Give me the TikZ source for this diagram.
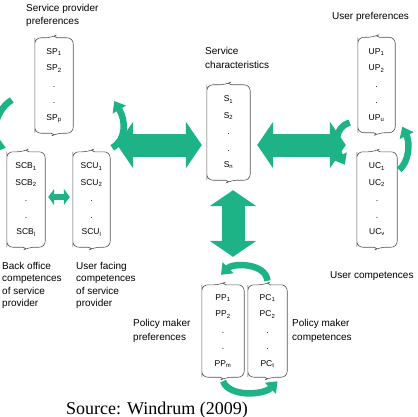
\documentclass[tikz,border=0pt]{standalone}
\usepackage{fontspec}
\setmainfont{Liberation Sans}
\newfontfamily\sourcefont{Liberation Serif}
\usetikzlibrary{arrows.meta}

\definecolor{arrowgreen}{RGB}{30,178,135}
\definecolor{framegray}{RGB}{85,85,85}

\tikzset{
  scrollbox/.style={minimum width=#1, minimum height=95pt, inner sep=0pt,
    align=center, font=\fontsize{8.5}{16.5}\selectfont},
  scrollline/.style={framegray, line width=0.6pt},
  label/.style={anchor=north west, inner sep=0pt, align=left,
    font=\fontsize{10}{12.5}\selectfont},
  blockarrow/.style={arrowgreen, line width=23pt,
    {Triangle[width=46pt,length=16pt]}-{Triangle[width=46pt,length=16pt]}},
  smallarrow/.style={arrowgreen, line width=6.5pt,
    {Triangle[width=16pt,length=6pt]}-{Triangle[width=16pt,length=6pt]}},
  turnarrow/.style={arrowgreen, line width=6.5pt, -{Triangle[width=15pt,length=10pt]}}
}

% frame with rounded ends and a small notch on top and bottom
\newcommand{\scrollframe}[1]{%
  \draw[scrollline] (#1.south west) [rounded corners=6pt] -- (#1.north west)
    -- ([xshift=-3pt]#1.north) [sharp corners] -- ([yshift=1.5pt]#1.north)
    -- ([xshift=3pt]#1.north) [rounded corners=6pt] -- (#1.north east)
    -- (#1.south east) -- ([xshift=3pt]#1.south) [sharp corners]
    -- ([yshift=-1.5pt]#1.south) -- ([xshift=-3pt]#1.south)
    [rounded corners=6pt] -- (#1.south west) -- (#1.north west);}

\begin{document}
\begin{tikzpicture}[x=1pt, y=-1pt]
  \useasboundingbox (0,0) rectangle (417,417);

  % boxes
  \node[scrollbox=38pt] (sp) at (54,85.5)
    {SP\textsubscript{1}\\SP\textsubscript{2}\\.\\.\\SP\textsubscript{p}};
  \node[scrollbox=38pt] (scb) at (26,199.5)
    {SCB\textsubscript{1}\\SCB\textsubscript{2}\\.\\.\\SCB\textsubscript{l}};
  \node[scrollbox=37pt] (scu) at (91.5,199.5)
    {SCU\textsubscript{1}\\SCU\textsubscript{2}\\.\\.\\SCU\textsubscript{l}};
  \node[scrollbox=43pt] (s) at (228.5,132.5)
    {S\textsubscript{1}\\S\textsubscript{2}\\.\\.\\S\textsubscript{n}};
  \node[scrollbox=37pt] (up) at (376.5,85)
    {UP\textsubscript{1}\\UP\textsubscript{2}\\.\\.\\UP\textsubscript{u}};
  \node[scrollbox=40pt] (uc) at (377,199.5)
    {UC\textsubscript{1}\\UC\textsubscript{2}\\.\\.\\UC\textsubscript{v}};
  \node[scrollbox=42pt, minimum height=92pt] (pp) at (223,331)
    {PP\textsubscript{1}\\PP\textsubscript{2}\\.\\.\\PP\textsubscript{m}};
  \node[scrollbox=39pt, minimum height=92pt] (pc) at (267.5,331)
    {PC\textsubscript{1}\\PC\textsubscript{2}\\.\\.\\PC\textsubscript{t}};
  \foreach \n in {sp,scb,scu,s,up,uc,pp,pc}
    \scrollframe{\n};

  % labels
  \node[label, font=\fontsize{10}{13}\selectfont] (sppref) at (26,4) {Service provider\\preferences};
  \node[label, font=\fontsize{10}{14}\selectfont] (schar) at (205,47) {Service\\characteristics};
  \node[label] (uppref) at (332,12) {User preferences};
  \node[label] (ucomp) at (330,271) {User competences};
  \node[label] (boffice) at (2,262) {Back office\\competences\\of service\\provider};
  \node[label] (ufacing) at (76,262) {User facing\\competences\\of service\\provider};
  \node[label, font=\fontsize{10}{14}\selectfont] (ppref) at (133,319) {Policy maker\\preferences};
  \node[label, font=\fontsize{10}{14}\selectfont] (pcomp) at (292,319) {Policy maker\\competences};
  \node[anchor=base, inner sep=0pt, font=\sourcefont\fontsize{18}{20}\selectfont] (source) at (157,414)
    {Source: Windrum (2009)};

  % block arrows
  \draw[blockarrow] ([shift={(7,12.5)}]scu.east |- s.west) -- ([shift={(-5,12.5)}]s.west);
  \draw[blockarrow] ([shift={(7,12.5)}]s.east) -- ([shift={(-12,12.5)}]s.east -| up.west);
  \draw[blockarrow] ([shift={(4.5,10)}]s.south) -- ([shift={(4.5,-28)}]s.south |- pp.north);
  \draw[smallarrow] ([shift={(3,-2.5)}]scb.east) -- ([shift={(-3,-2.5)}]scu.west);

  % turning arrows
  \draw[turnarrow] ([shift={(-23,14.5)}]sp.west) .. controls +(-20,12) and +(-14,-4) .. ([shift={(-1,-4)}]scb.north west);
  \draw[turnarrow] ([shift={(2,-4)}]scu.north east) .. controls +(14,-8) and +(12,20) .. ([shift={(41,15.5)}]sp.east);
  \draw[turnarrow] ([shift={(-8,-10)}]up.south west) .. controls +(-16,4) and +(-10,-18) .. ([shift={(-12,13)}]uc.north west);
  \draw[turnarrow] ([shift={(2,18)}]uc.north east) .. controls +(10,-8) and +(8,16) .. ([shift={(7,-6)}]up.south east);
  \draw[turnarrow] ([shift={(0,-4)}]pc.north) .. controls +(-2,-18) and +(12,-12) .. ([shift={(-2,-10)}]pp.north);
  \draw[turnarrow] ([shift={(0,4)}]pp.south) .. controls +(6,16) and +(-14,14) .. ([shift={(10,4)}]pc.south);
\end{tikzpicture}
\end{document}
